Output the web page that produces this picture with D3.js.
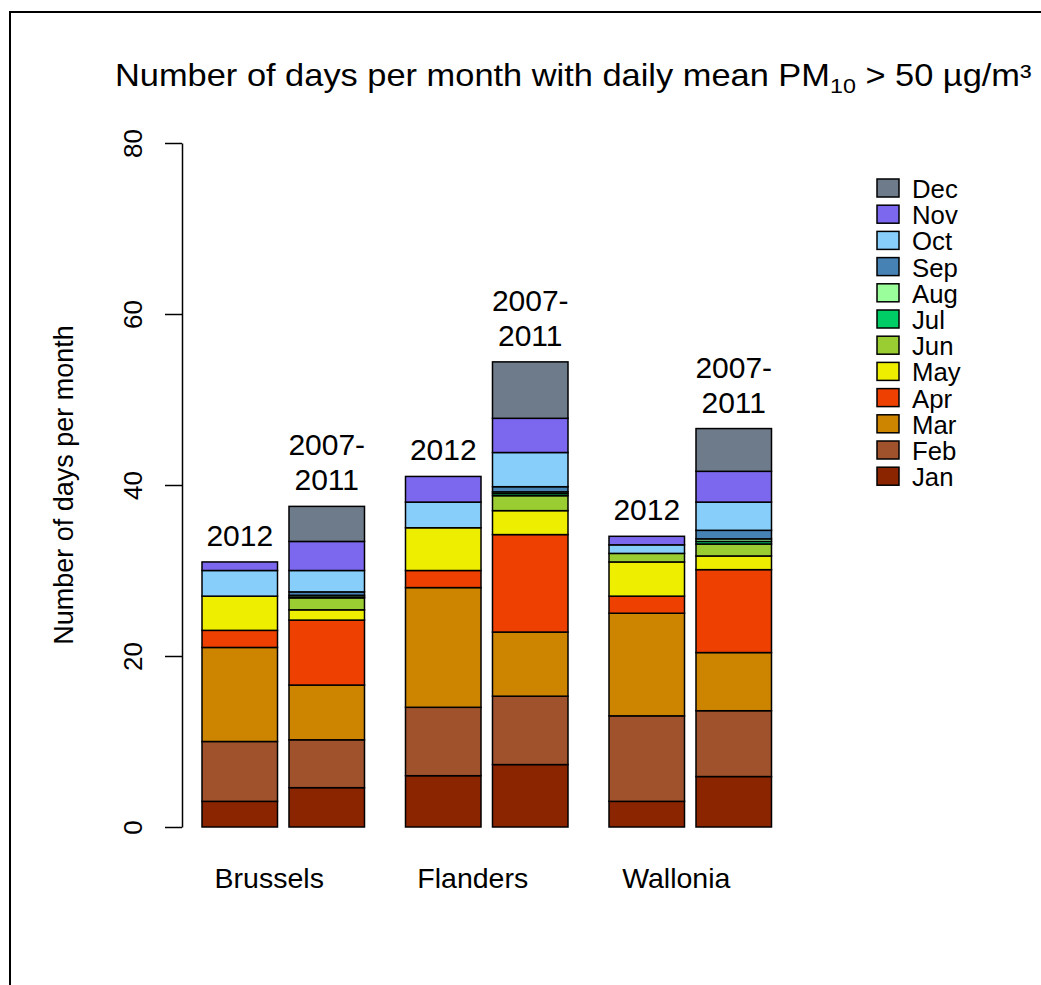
<!DOCTYPE html>
<html>
<head>
<meta charset="utf-8">
<script src="https://cdn.jsdelivr.net/npm/d3@7"></script>
<style>
  body { margin: 0; background: #fff; }
  svg { font-family: "Liberation Sans", Arial, sans-serif; }
</style>
</head>
<body>
<script>
// data
var months = ["Jan", "Feb", "Mar", "Apr", "May", "Jun", "Jul", "Aug", "Sep", "Oct", "Nov", "Dec"];
var monthColors = ["#8B2500", "#A0522D", "#CD8500", "#EE4000", "#EEEE00", "#9ACD32",
                   "#00CD66", "#9AFF9A", "#4682B4", "#87CEFA", "#7B68EE", "#6E7B8B"];
var regions = ["Brussels", "Flanders", "Wallonia"];
var periods = ["2012", "2007-2011"];

var brussels2012 = [3, 7, 11, 2, 4, 0, 0, 0, 0, 3, 1, 0];
var brussels0711 = [4.6, 5.6, 6.4, 7.6, 1.2, 1.4, 0.1, 0.2, 0.4, 2.5, 3.4, 4.1];
var flanders2012 = [6, 8, 14, 2, 5, 0, 0, 0, 0, 3, 3, 0];
var flanders0711 = [7.3, 8.0, 7.5, 11.4, 2.8, 1.75, 0.25, 0.2, 0.6, 4.0, 4.0, 6.6];
var wallonia2012 = [3, 10, 12, 2, 4, 1, 0, 0, 0, 1, 1, 0];
var wallonia0711 = [5.9, 7.7, 6.8, 9.7, 1.6, 1.4, 0.3, 0.3, 1.0, 3.3, 3.6, 5.0];

var yTicks = [0, 20, 40, 60, 80];

var bars = [
  {region: "Brussels", period: "2012", values: brussels2012},
  {region: "Brussels", period: "2007-2011", values: brussels0711},
  {region: "Flanders", period: "2012", values: flanders2012},
  {region: "Flanders", period: "2007-2011", values: flanders0711},
  {region: "Wallonia", period: "2012", values: wallonia2012},
  {region: "Wallonia", period: "2007-2011", values: wallonia0711}
];

var width = 1041, height = 985;

var svg = d3.select("body").append("svg")
    .attr("width", width)
    .attr("height", height);

// frame
svg.append("rect")
    .attr("x", 10).attr("y", 12)
    .attr("width", 1200).attr("height", 1200)
    .attr("fill", "none").attr("stroke", "#000").attr("stroke-width", 2);

// scales
var y = d3.scaleLinear().domain([0, 80]).range([827, 143]);

var xGroup = d3.scaleBand()
    .domain(regions)
    .range([202, 771.5])
    .paddingInner(0.2015)
    .paddingOuter(0);

var xBar = d3.scaleBand()
    .domain(periods)
    .range([0, xGroup.bandwidth()])
    .paddingInner(0.132);

// stack each bar
bars.forEach(function(b) {
  var acc = 0;
  b.segs = b.values.map(function(v, i) {
    var s = {month: months[i], color: monthColors[i], y0: acc, y1: acc + v};
    acc += v;
    return s;
  });
  b.total = acc;
  b.x = xGroup(b.region) + xBar(b.period);
});

var barG = svg.selectAll("g.bar").data(bars)
  .enter().append("g")
    .attr("class", "bar")
    .attr("transform", function(d) { return "translate(" + d.x + ",0)"; });

barG.selectAll("rect").data(function(d) { return d.segs.filter(function(s) { return s.y1 > s.y0; }); })
  .enter().append("rect")
    .attr("x", 0)
    .attr("width", xBar.bandwidth())
    .attr("y", function(s) { return y(s.y1); })
    .attr("height", function(s) { return y(s.y0) - y(s.y1); })
    .attr("fill", function(s) { return s.color; })
    .attr("stroke", "#000")
    .attr("stroke-width", 1.5);

// period labels above bars
barG.each(function(d) {
  var g = d3.select(this);
  var cx = xBar.bandwidth() / 2;
  var top = y(d.total);
  if (d.period === "2012") {
    g.append("text").attr("x", cx).attr("y", top - 16)
      .attr("text-anchor", "middle").attr("font-size", 30).text("2012");
  } else {
    g.append("text").attr("x", cx).attr("y", top - 16)
      .attr("text-anchor", "middle").attr("font-size", 30).text("2011");
    g.append("text").attr("x", cx).attr("y", top - 51)
      .attr("text-anchor", "middle").attr("font-size", 30).text("2007-");
  }
});

// y axis
var yAxis = d3.axisLeft(y).tickValues(yTicks).tickSize(17).tickSizeOuter(0).tickFormat("");
var ax = svg.append("g").attr("transform", "translate(182,0)").call(yAxis);
ax.select(".domain").attr("stroke", "#000").attr("stroke-width", 1.5);
ax.selectAll(".tick line").attr("stroke", "#000").attr("stroke-width", 1.5);
ax.selectAll(".tick").append("text")
    .attr("transform", "translate(-40,0) rotate(-90)")
    .attr("text-anchor", "middle")
    .attr("fill", "#000")
    .attr("font-size", 26)
    .attr("font-family", "Liberation Sans, Arial, sans-serif")
    .text(function(d) { return d; });

// y label
svg.append("text")
    .attr("transform", "translate(73,485) rotate(-90)")
    .attr("text-anchor", "middle")
    .attr("font-size", 27)
    .text("Number of days per month");

// region labels
svg.selectAll("text.region").data(regions)
  .enter().append("text")
    .attr("class", "region")
    .attr("x", function(d) { return xGroup(d) + xGroup.bandwidth() / 2 - 14; })
    .attr("y", 888)
    .attr("text-anchor", "middle")
    .attr("font-size", 28.5)
    .text(function(d) { return d; });

// title
var title = svg.append("text")
    .attr("transform", "translate(115,86) scale(1.11,1)")
    .attr("font-size", 31);
title.append("tspan").text("Number of days per month with daily mean PM");
title.append("tspan").attr("font-size", 21).attr("dy", 7).text("10");
title.append("tspan").attr("dy", -7).text(" > 50 µg/m³");

// legend (Dec at top)
var legendMonths = months.slice().reverse();
var leg = svg.selectAll("g.leg").data(legendMonths)
  .enter().append("g")
    .attr("class", "leg")
    .attr("transform", function(d, i) { return "translate(877," + (179 + i * 26.2) + ")"; });
leg.append("rect")
    .attr("width", 22).attr("height", 18)
    .attr("fill", function(d) { return monthColors[months.indexOf(d)]; })
    .attr("stroke", "#000").attr("stroke-width", 1.5);
// text slightly widened to match the reference glyphs
leg.append("text")
    .attr("transform", "translate(35,19) scale(1.12,1.1)")
    .attr("font-size", 23)
    .text(function(d) { return d; });
</script>
</body>
</html>
